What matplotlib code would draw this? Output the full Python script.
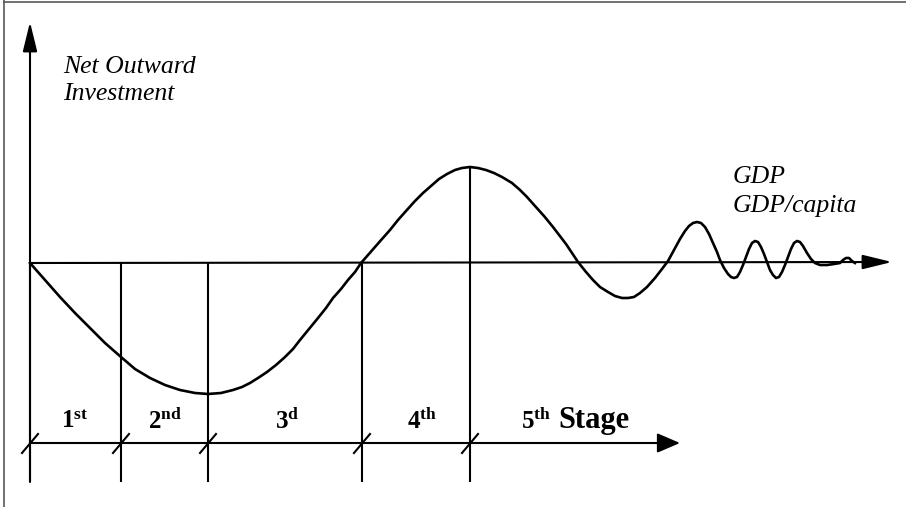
import matplotlib
matplotlib.use("Agg")
import matplotlib.pyplot as plt
from matplotlib.lines import Line2D

plt.rcParams['font.family'] = ['Liberation Serif', 'DejaVu Serif']
plt.rcParams['mathtext.fontset'] = 'custom'
plt.rcParams['mathtext.rm'] = 'Liberation Serif:bold'
plt.rcParams['mathtext.it'] = 'Liberation Serif:bold'
plt.rcParams['mathtext.bf'] = 'Liberation Serif:bold'

# investment development path: net outward investment vs GDP per capita
gdp = [0, 15, 30, 45, 60, 75, 91, 105, 120, 135, 150, 165, 178, 191, 203, 212,
       220, 228, 237, 246, 255, 263, 270, 279, 288, 296, 303, 311, 318, 325,
       331, 338, 345, 352, 360, 368, 376, 385, 393, 401, 409, 417, 425, 432,
       440, 448, 456, 464, 472, 482, 490, 497, 505, 514, 523, 536, 548, 556,
       563, 570, 578, 585, 592, 598, 604, 610, 617, 625, 632, 638, 644, 650,
       655, 659, 663, 667, 671, 675, 679, 683, 687, 690, 694, 698, 701, 704,
       707, 710, 713, 716, 719, 722, 725, 728, 731, 734, 737, 740, 743, 746,
       749, 752, 755, 758, 761, 764, 767, 770, 773, 777, 781, 785, 790, 797,
       804, 810, 813, 816, 819, 822, 825]
noi = [0, -17, -34, -50, -65, -80, -94, -106, -115, -122, -127, -130, -131,
       -130, -127, -124, -120, -115, -109, -102, -94, -86, -77, -66, -55, -45,
       -35, -26, -17, -9, 0, 8, 16, 24, 33, 43, 52, 62, 70, 77, 84, 89, 93, 95,
       96, 95, 93, 90, 86, 80, 73, 66, 57, 47, 36, 19, 1, -9, -17, -24, -29,
       -33, -35, -35, -34, -30, -24, -15, -6, 2, 13, 24, 32, 37, 40, 41, 40,
       36, 29, 20, 11, 3, -5, -11, -14, -15, -14, -9, -2, 6, 14, 20, 22, 21,
       16, 9, 1, -7, -12, -15, -14, -9, -2, 6, 14, 20, 22, 21, 17, 10, 4, 0,
       -2, -2, -1, 0, 3, 5, 5, 2, 0]

stage_bounds = [0, 91, 178, 332, 440]
stage_tops = [0, 0, 0, 0, 96]
stage_labels = [r'$1^{st}$', r'$2^{nd}$', r'$3^{d}$', r'$4^{th}$', r'$5^{th}$']
stage_label_x = [45, 135, 257, 392, 506]

fig = plt.figure(figsize=(9.06, 5.07), dpi=100)
ax = fig.add_axes([0, 0, 1, 1])
ax.set_xlim(-30, 876)
ax.set_ylim(-244, 263)
ax.axis('off')

lw = 1.5
arrow_kw = dict(arrowstyle='-|>,head_length=0.9,head_width=0.22', color='black',
                lw=lw, shrinkA=0, shrinkB=0, mutation_scale=20)

# axes with arrow heads
ax.annotate('', xy=(0, 241), xytext=(0, -219), arrowprops=arrow_kw)
ax.annotate('', xy=(862, 1), xytext=(0, 0), arrowprops=arrow_kw)
ax.annotate('', xy=(650, -180), xytext=(0, -180),
            arrowprops=dict(arrow_kw, arrowstyle='-|>,head_length=0.7,head_width=0.3'))

# stage dividers and slanted ticks on the stage axis
for x, top in zip(stage_bounds, stage_tops):
    ax.plot([x, x], [top, -219], color='black', lw=lw, solid_capstyle='butt')
    ax.plot([x - 8, x + 8], [-190, -171], color='black', lw=lw)

ax.plot(gdp, noi, color='black', lw=1.9, solid_joinstyle='round')

for lab, x in zip(stage_labels, stage_label_x):
    ax.text(x, -165, lab, fontsize=18, ha='center', va='baseline')
ax.text(528, -165, 'Stage', fontsize=22, fontweight='bold', ha='left', va='baseline')

ax.text(33, 190, 'Net Outward', fontsize=18.5, style='italic', va='baseline')
ax.text(33, 163, 'Investment', fontsize=18.5, style='italic', va='baseline')
ax.text(703, 80, 'GDP', fontsize=18.5, style='italic', va='baseline')
ax.text(703, 51, 'GDP/capita', fontsize=18.5, style='italic', va='baseline')

# frame of the scanned figure (left and top edges only)
fig.add_artist(Line2D([4 / 906, 4 / 906], [0, 1], transform=fig.transFigure,
                      color='0.35', lw=1.2))
fig.add_artist(Line2D([4 / 906, 1], [1 - 1.5 / 507] * 2, transform=fig.transFigure,
                      color='0.35', lw=1.2))

fig.savefig('out.png', dpi=100)
